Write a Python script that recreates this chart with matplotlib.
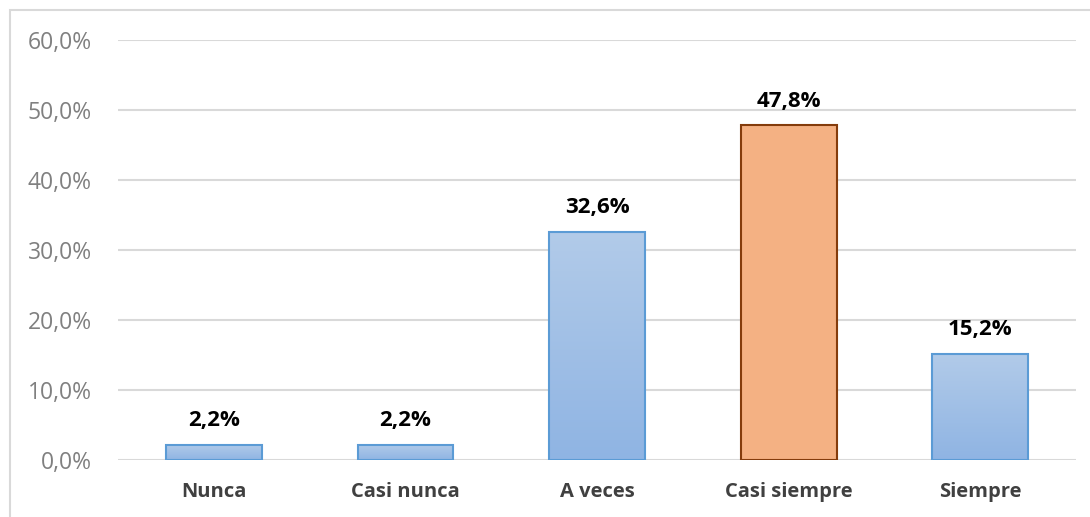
import matplotlib.pyplot as plt
import numpy as np
from matplotlib.patches import Rectangle
from matplotlib.colors import LinearSegmentedColormap

# datos
categorias = ['Nunca', 'Casi nunca', 'A veces', 'Casi siempre', 'Siempre']
porcentajes = [2.2, 2.2, 32.6, 47.8, 15.2]
etiquetas = ['2,2%', '2,2%', '32,6%', '47,8%', '15,2%']
destacado = 3  # barra naranja

plt.rcParams['font.family'] = ['Open Sans', 'DejaVu Sans']

fig = plt.figure(figsize=(10.9, 5.17), dpi=100)
ax = fig.add_axes([118 / 1090, 57 / 517, (1076 - 118) / 1090, 420 / 517])

# borde del gráfico
fig.patches.append(Rectangle((10 / 1090, -0.1), 1.2, (517 - 10) / 517 + 0.1,
                             transform=fig.transFigure, fill=False,
                             edgecolor='#d9d9d9', linewidth=1.5))

x = np.arange(len(categorias))
degradado = LinearSegmentedColormap.from_list('azul', ['#8fb4e3', '#b2cbe9'])
grad = np.linspace(0, 1, 256).reshape(-1, 1)

for i, v in enumerate(porcentajes):
    if i == destacado:
        ax.bar(x[i], v, width=0.5, color='#f4b183', edgecolor='#843c0c',
               linewidth=1.5, zorder=3)
    else:
        b = ax.bar(x[i], v, width=0.5, color='none', edgecolor='#5b9bd5',
                   linewidth=1.5, zorder=4)[0]
        im = ax.imshow(grad, cmap=degradado, aspect='auto', origin='lower',
                       extent=[x[i] - 0.25, x[i] + 0.25, 0, v], zorder=3)
        im.set_clip_path(b)
    ax.annotate(etiquetas[i], (x[i], v), xytext=(0, 10), textcoords='offset points',
                ha='center', va='bottom', fontsize=16, fontweight='bold', color='black')

ax.set_xlim(-0.5, len(categorias) - 0.5)
ax.set_ylim(0, 60)
ax.set_yticks(range(0, 61, 10))
ax.set_yticklabels([f'{t},0%' for t in range(0, 61, 10)], fontsize=16.5, color='#808080')
ax.set_xticks(x)
ax.set_xticklabels(categorias, fontsize=14.5, fontweight='bold', color='#404040')
ax.tick_params(axis='y', length=0, pad=19)
ax.tick_params(axis='x', length=0, pad=16)
ax.grid(axis='y', color='#d9d9d9', linewidth=1.5, zorder=0)
ax.set_axisbelow(True)
for s in ax.spines.values():
    s.set_visible(False)

plt.savefig('out.png', dpi=100)
